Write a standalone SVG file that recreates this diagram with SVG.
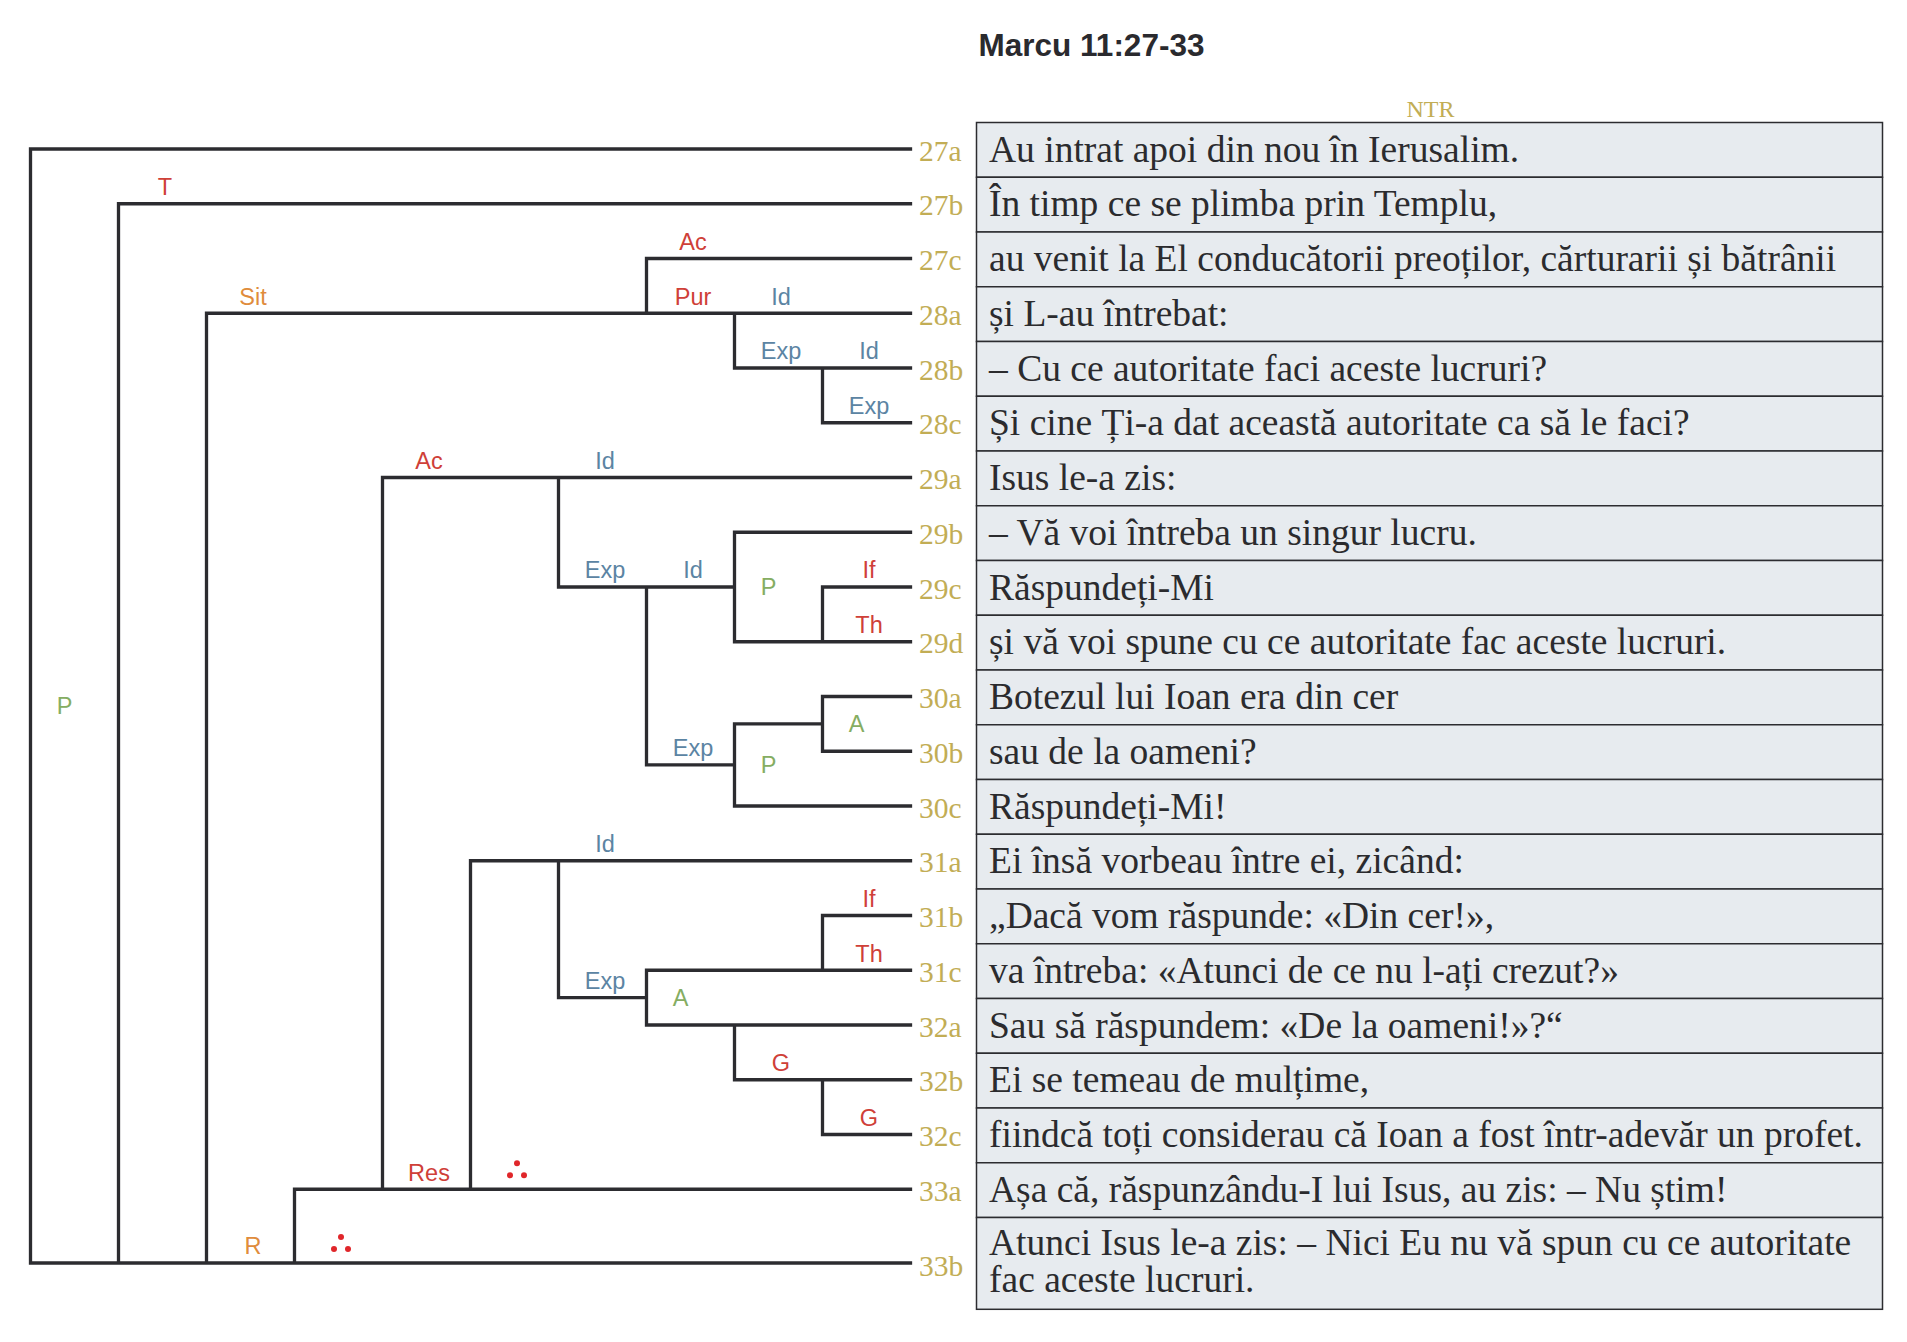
<svg xmlns="http://www.w3.org/2000/svg" width="1907" height="1342" viewBox="0 0 1907 1342">
<style>
.title{font-family:"Liberation Sans",Arial,sans-serif;font-weight:bold;font-size:31.5px;fill:#2a2a2e;text-anchor:middle}
.ntr{font-family:"Liberation Serif","Times New Roman",serif;font-size:24px;fill:#c2ad55;text-anchor:middle}
.cell{fill:#e7ebef;stroke:#2c2c30;stroke-width:1.5}
.num{font-family:"Liberation Serif","Times New Roman",serif;font-size:29.5px;fill:#c2ad55}
.txt{font-family:"Liberation Serif","Times New Roman",serif;font-size:37.5px;fill:#2b2b2e}
.lbl{font-family:"Liberation Sans",Arial,sans-serif;font-size:23.5px;text-anchor:middle}
.red{fill:#cf4038}.blue{fill:#5b84a3}.green{fill:#85ad62}.orange{fill:#e08c3c}
.tree{fill:none;stroke:#2c2c30;stroke-width:3.3;stroke-linecap:square;stroke-linejoin:miter}
.dot{fill:#e0262a}
</style>
<defs>
<g id="dots"><circle cx="0" cy="-26" r="3"/><circle cx="-7" cy="-14" r="3"/><circle cx="7" cy="-14" r="3"/></g>
</defs>
<rect width="1907" height="1342" fill="#ffffff"/>
<text class="title" x="1091.5" y="56">Marcu 11:27-33</text>
<text class="ntr" x="1430.5" y="116.5">NTR</text>

<g id="connectors" class="tree">
<path d="M30.5 1263 V149 H910.5 M30.5 1263 H910.5 M118.5 1263 V203.75 H910.5 M206.5 1263 V313.25 H910.5 M294.5 1263 V1189.25 H910.5 M382.5 1189.25 V477.5 H910.5 M470.5 1189.25 V860.75 H910.5 M646.5 313.25 V258.5 H910.5 M734.5 313.25 V368 H910.5 M822.5 368 V422.75 H910.5 M558.5 477.5 V587 H734.5 M910.5 532.25 H734.5 V641.75 H910.5 M910.5 587 H822.5 V641.75 M646.5 587 V764.94 H734.5 M734.5 723.88 V806 H910.5 M734.5 723.88 H822.5 M910.5 696.5 H822.5 V751.25 H910.5 M558.5 860.75 V997.63 H646.5 M910.5 970.25 H646.5 V1025 H910.5 M910.5 915.5 H822.5 V970.25 M734.5 1025 V1079.75 H910.5 M822.5 1079.75 V1134.5 H910.5"/>
</g>

<g id="relation-labels">
<g id="n-root" class="lbl green"><text x="64.5" y="713.5">P</text></g>
<g id="n-T" class="lbl red"><text x="165" y="195.05">T</text></g>
<g id="n-Sit" class="lbl orange"><text x="253" y="304.55">Sit</text></g>
<g id="n-27c-Ac" class="lbl red"><text x="693" y="249.8">Ac</text></g>
<g id="n-28a-Pur" class="lbl red"><text x="693" y="304.55">Pur</text></g>
<g id="n-28a-Id" class="lbl blue"><text x="781" y="304.55">Id</text></g>
<g id="n-28b-Exp" class="lbl blue"><text x="781" y="359.3">Exp</text></g>
<g id="n-28b-Id" class="lbl blue"><text x="869" y="359.3">Id</text></g>
<g id="n-28c-Exp" class="lbl blue"><text x="869" y="414.05">Exp</text></g>
<g id="n-29a-Ac" class="lbl red"><text x="429" y="468.8">Ac</text></g>
<g id="n-29a-Id" class="lbl blue"><text x="605" y="468.8">Id</text></g>
<g id="n-29-Exp" class="lbl blue"><text x="605" y="578.3">Exp</text></g>
<g id="n-29-Id" class="lbl blue"><text x="693" y="578.3">Id</text></g>
<g id="n-29-P" class="lbl green"><text x="768.5" y="595.4">P</text></g>
<g id="n-29c-If" class="lbl red"><text x="869" y="578.3">If</text></g>
<g id="n-29d-Th" class="lbl red"><text x="869" y="633.05">Th</text></g>
<g id="n-30-Exp" class="lbl blue"><text x="693" y="756.24">Exp</text></g>
<g id="n-30-A" class="lbl green"><text x="856.5" y="732.3">A</text></g>
<g id="n-30-P" class="lbl green"><text x="768.5" y="773.3">P</text></g>
<g id="n-31a-Id" class="lbl blue"><text x="605" y="852.05">Id</text></g>
<g id="n-31b-If" class="lbl red"><text x="869" y="906.8">If</text></g>
<g id="n-31c-Th" class="lbl red"><text x="869" y="961.55">Th</text></g>
<g id="n-31-Exp" class="lbl blue"><text x="605" y="988.93">Exp</text></g>
<g id="n-31-A" class="lbl green"><text x="680.5" y="1006">A</text></g>
<g id="n-32b-G" class="lbl red"><text x="781" y="1071.05">G</text></g>
<g id="n-32c-G" class="lbl red"><text x="869" y="1125.8">G</text></g>
<g id="n-33a-Res" class="lbl red"><text x="429" y="1180.55">Res</text></g>
<g id="n-33b-R" class="lbl orange"><text x="253" y="1254.3">R</text></g>
<g id="n-33a-dots" class="dot"><use href="#dots" x="517" y="1189.25"/></g>
<g id="n-33b-dots" class="dot"><use href="#dots" x="341" y="1263"/></g>
</g>

<g id="row-27a"><rect class="cell" x="976.5" y="122.5" width="906" height="54.75"/><text class="num" x="919" y="160.7">27a</text><text class="txt" x="989" y="161.7">Au intrat apoi din nou în Ierusalim.</text></g>
<g id="row-27b"><rect class="cell" x="976.5" y="177.25" width="906" height="54.75"/><text class="num" x="919" y="215.45">27b</text><text class="txt" x="989" y="216.45">În timp ce se plimba prin Templu,</text></g>
<g id="row-27c"><rect class="cell" x="976.5" y="232" width="906" height="54.75"/><text class="num" x="919" y="270.2">27c</text><text class="txt" x="989" y="271.2">au venit la El conducătorii preoților, cărturarii și bătrânii</text></g>
<g id="row-28a"><rect class="cell" x="976.5" y="286.75" width="906" height="54.75"/><text class="num" x="919" y="324.95">28a</text><text class="txt" x="989" y="325.95">și L-au întrebat:</text></g>
<g id="row-28b"><rect class="cell" x="976.5" y="341.5" width="906" height="54.75"/><text class="num" x="919" y="379.7">28b</text><text class="txt" x="989" y="380.7">– Cu ce autoritate faci aceste lucruri?</text></g>
<g id="row-28c"><rect class="cell" x="976.5" y="396.25" width="906" height="54.75"/><text class="num" x="919" y="434.45">28c</text><text class="txt" x="989" y="435.45">Și cine Ți-a dat această autoritate ca să le faci?</text></g>
<g id="row-29a"><rect class="cell" x="976.5" y="451" width="906" height="54.75"/><text class="num" x="919" y="489.2">29a</text><text class="txt" x="989" y="490.2">Isus le-a zis:</text></g>
<g id="row-29b"><rect class="cell" x="976.5" y="505.75" width="906" height="54.75"/><text class="num" x="919" y="543.95">29b</text><text class="txt" x="989" y="544.95">– Vă voi întreba un singur lucru.</text></g>
<g id="row-29c"><rect class="cell" x="976.5" y="560.5" width="906" height="54.75"/><text class="num" x="919" y="598.7">29c</text><text class="txt" x="989" y="599.7">Răspundeți-Mi</text></g>
<g id="row-29d"><rect class="cell" x="976.5" y="615.25" width="906" height="54.75"/><text class="num" x="919" y="653.45">29d</text><text class="txt" x="989" y="654.45">și vă voi spune cu ce autoritate fac aceste lucruri.</text></g>
<g id="row-30a"><rect class="cell" x="976.5" y="670" width="906" height="54.75"/><text class="num" x="919" y="708.2">30a</text><text class="txt" x="989" y="709.2">Botezul lui Ioan era din cer</text></g>
<g id="row-30b"><rect class="cell" x="976.5" y="724.75" width="906" height="54.75"/><text class="num" x="919" y="762.95">30b</text><text class="txt" x="989" y="763.95">sau de la oameni?</text></g>
<g id="row-30c"><rect class="cell" x="976.5" y="779.5" width="906" height="54.75"/><text class="num" x="919" y="817.7">30c</text><text class="txt" x="989" y="818.7">Răspundeți-Mi!</text></g>
<g id="row-31a"><rect class="cell" x="976.5" y="834.25" width="906" height="54.75"/><text class="num" x="919" y="872.45">31a</text><text class="txt" x="989" y="873.45">Ei însă vorbeau între ei, zicând:</text></g>
<g id="row-31b"><rect class="cell" x="976.5" y="889" width="906" height="54.75"/><text class="num" x="919" y="927.2">31b</text><text class="txt" x="989" y="928.2">„Dacă vom răspunde: «Din cer!»,</text></g>
<g id="row-31c"><rect class="cell" x="976.5" y="943.75" width="906" height="54.75"/><text class="num" x="919" y="981.95">31c</text><text class="txt" x="989" y="982.95">va întreba: «Atunci de ce nu l-ați crezut?»</text></g>
<g id="row-32a"><rect class="cell" x="976.5" y="998.5" width="906" height="54.75"/><text class="num" x="919" y="1036.7">32a</text><text class="txt" x="989" y="1037.7">Sau să răspundem: «De la oameni!»?“</text></g>
<g id="row-32b"><rect class="cell" x="976.5" y="1053.25" width="906" height="54.75"/><text class="num" x="919" y="1091.45">32b</text><text class="txt" x="989" y="1092.45">Ei se temeau de mulțime,</text></g>
<g id="row-32c"><rect class="cell" x="976.5" y="1108" width="906" height="54.75"/><text class="num" x="919" y="1146.2">32c</text><text class="txt" x="989" y="1147.2">fiindcă toți considerau că Ioan a fost într-adevăr un profet.</text></g>
<g id="row-33a"><rect class="cell" x="976.5" y="1162.75" width="906" height="54.75"/><text class="num" x="919" y="1200.95">33a</text><text class="txt" x="989" y="1201.95">Așa că, răspunzându-I lui Isus, au zis: – Nu știm!</text></g>
<g id="row-33b"><rect class="cell" x="976.5" y="1217.5" width="906" height="91.8"/><text class="num" x="919" y="1275.5">33b</text><text class="txt" x="989" y="1255"><tspan x="989" y="1255">Atunci Isus le-a zis: – Nici Eu nu vă spun cu ce autoritate</tspan><tspan x="989" y="1291.7">fac aceste lucruri.</tspan></text></g>
</svg>
